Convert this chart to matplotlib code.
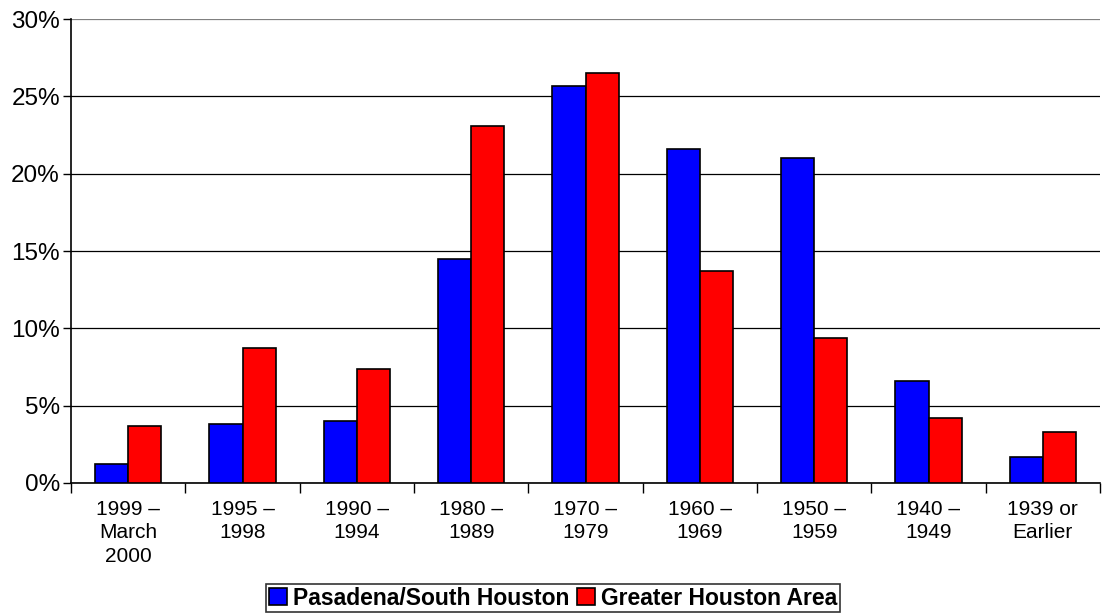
import matplotlib
matplotlib.use("Agg")
import matplotlib.pyplot as plt
import numpy as np
from matplotlib.ticker import FuncFormatter

plt.rcParams["font.family"] = ["Liberation Sans", "DejaVu Sans"]

categories = ["1999 –\nMarch\n2000", "1995 –\n1998", "1990 –\n1994", "1980 –\n1989",
              "1970 –\n1979", "1960 –\n1969", "1950 –\n1959", "1940 –\n1949",
              "1939 or\nEarlier"]
pasadena = [1.2, 3.8, 4.0, 14.5, 25.7, 21.6, 21.0, 6.6, 1.7]
greater_houston = [3.7, 8.7, 7.4, 23.1, 26.5, 13.7, 9.4, 4.2, 3.3]
series_names = ["Pasadena/South Houston", "Greater Houston Area"]

fig = plt.figure(figsize=(11.06, 6.14), dpi=100)
ax = fig.add_axes([0.0642, 0.2134, 0.9304, 0.7556])

x = np.arange(len(categories))
w = 0.29
ax.bar(x - w / 2, pasadena, w, color="#0000ff", edgecolor="black", linewidth=1.2,
       label=series_names[0], zorder=3)
ax.bar(x + w / 2, greater_houston, w, color="#ff0000", edgecolor="black", linewidth=1.2,
       label=series_names[1], zorder=3)

ax.set_xlim(-0.5, len(categories) - 0.5)
ax.set_ylim(0, 30)
ax.set_yticks(range(0, 31, 5))
ax.yaxis.set_major_formatter(FuncFormatter(lambda v, _: f"{v:.0f}%"))
ax.yaxis.grid(True, color="black", linewidth=0.9, zorder=0)
ax.get_ygridlines()[-1].set_color("#808080")
ax.set_axisbelow(True)

ax.set_xticks(x)
ax.set_xticklabels(categories, fontsize=15, linespacing=1.3)
ax.set_xticks(np.arange(-0.5, len(categories)), minor=True)
ax.tick_params(axis="x", which="major", length=0, pad=12)
ax.tick_params(axis="x", which="minor", length=7, width=1, direction="out")
ax.tick_params(axis="y", labelsize=17.5, length=6, width=1, direction="out", pad=2)

for s in ("top", "right"):
    ax.spines[s].set_visible(False)
ax.spines["left"].set_linewidth(1.2)
ax.spines["bottom"].set_linewidth(1.2)

leg = fig.legend(loc="lower center", bbox_to_anchor=(0.50, -0.004), ncol=2,
                 frameon=True, fancybox=False, edgecolor="black",
                 prop={"weight": "bold", "size": 16.5}, handlelength=0.8,
                 handleheight=0.8, handletextpad=0.25, columnspacing=0.35,
                 borderpad=0.1, borderaxespad=0.2)
leg.get_frame().set_linewidth(1.2)

fig.savefig("out.png", dpi=100)
